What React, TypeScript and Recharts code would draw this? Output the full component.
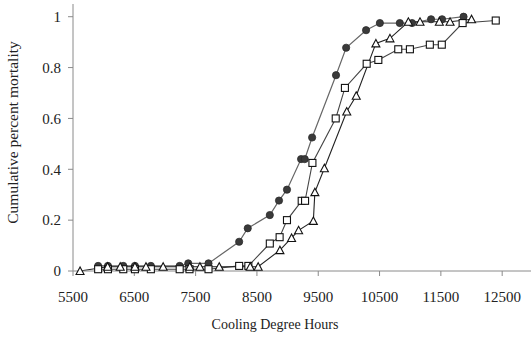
import React from "react";
import { LineChart, Line, XAxis, YAxis, Label } from "recharts";

// ── Data ─────────────────────────────────────────────────────────────────────

const circleX = [5910, 6070, 6320, 6510, 6770, 7240, 7380, 7710, 8210, 8350, 8710, 8860, 8990, 9220, 9280, 9400, 9790, 9955, 10280, 10505, 10830, 11030, 11340, 11520, 11870];
const circleY = [0.02, 0.02, 0.02, 0.02, 0.02, 0.02, 0.03, 0.03, 0.115, 0.168, 0.22, 0.277, 0.32, 0.44, 0.44, 0.525, 0.77, 0.878, 0.947, 0.975, 0.975, 0.975, 0.99, 0.99, 1.0];

const squareX = [5910, 6070, 6320, 6510, 6770, 7240, 7400, 7710, 8210, 8360, 8710, 8870, 8990, 9230, 9285, 9405, 9785, 9935, 10290, 10480, 10805, 10995, 11320, 11515, 11855, 12395];
const squareY = [0.007, 0.007, 0.007, 0.007, 0.007, 0.007, 0.007, 0.007, 0.02, 0.02, 0.108, 0.133, 0.2, 0.276, 0.276, 0.425, 0.6, 0.72, 0.815, 0.83, 0.872, 0.872, 0.89, 0.89, 0.975, 0.985];

const triangleX = [5615, 6065, 6270, 6510, 6690, 6970, 7405, 7570, 7885, 8390, 8520, 8875, 9065, 9180, 9420, 9445, 9600, 9965, 10120, 10440, 10670, 10970, 11160, 11475, 11650, 12000];
const triangleY = [0, 0.017, 0.017, 0.017, 0.017, 0.017, 0.017, 0.017, 0.017, 0.017, 0.017, 0.082, 0.13, 0.16, 0.197, 0.31, 0.404, 0.627, 0.689, 0.895, 0.915, 0.98, 0.98, 0.98, 0.98, 0.99];

const xTicks = [5500, 6500, 7500, 8500, 9500, 10500, 11500, 12500];
const yTicks = [0, 0.2, 0.4, 0.6, 0.8, 1];

const zip = (xs: number[], ys: number[]) => xs.map((x, i) => ({ x, y: ys[i] }));

const circles = zip(circleX, circleY);
const squares = zip(squareX, squareY);
const triangles = zip(triangleX, triangleY);

// ── Markers ──────────────────────────────────────────────────────────────────

const CircleDot = (props: any) => {
  const { cx, cy, index } = props;
  return <circle key={`c-${index}`} cx={cx} cy={cy} r={3.6} fill="#3a3a3a" stroke="#2a2a2a" strokeWidth={0.8} />;
};

const SquareDot = (props: any) => {
  const { cx, cy, index } = props;
  const s = 7;
  return (
    <rect key={`s-${index}`} x={cx - s / 2} y={cy - s / 2} width={s} height={s} fill="#fff" stroke="#111" strokeWidth={1.1} />
  );
};

const TriangleDot = (props: any) => {
  const { cx, cy, index } = props;
  const h = 7;
  const w = 8;
  return (
    <polygon
      key={`t-${index}`}
      points={`${cx},${cy - h / 2 - 0.5} ${cx - w / 2},${cy + h / 2} ${cx + w / 2},${cy + h / 2}`}
      fill="#fff"
      stroke="#111"
      strokeWidth={1.1}
    />
  );
};

const font = "'Liberation Serif', 'Times New Roman', serif";

export default function App() {
  return (
    <div style={{ position: "absolute", left: 0, top: 0, background: "#fff" }}>
      <LineChart width={531} height={339} margin={{ top: 4, right: 0, bottom: 0, left: 0 }}>
        <XAxis
          type="number"
          dataKey="x"
          domain={[5500, 12970]}
          ticks={xTicks}
          allowDataOverflow
          height={68}
          tickSize={5}
          tickMargin={15}
          stroke="#8a8a8a"
          tick={{ fontSize: 15, fill: "#222", fontFamily: font }}
        >
          <Label
            value="Cooling Degree Hours"
            position="insideBottom"
            offset={10}
            dx={-27}
            style={{ fontSize: 14, fill: "#222", fontFamily: font }}
          />
        </XAxis>
        <YAxis
          type="number"
          dataKey="y"
          domain={[0, 1.05]}
          ticks={yTicks}
          width={73}
          tickSize={5}
          tickMargin={7}
          stroke="#8a8a8a"
          tick={{ fontSize: 15, fill: "#222", fontFamily: font }}
        >
          <Label
            value="Cumulative percent mortality"
            angle={-90}
            position="insideLeft"
            offset={0}
            dx={12}
            dy={-5}
            style={{ fontSize: 15.5, fill: "#222", fontFamily: font, textAnchor: "middle" }}
          />
        </YAxis>
        <Line
          data={circles}
          dataKey="y"
          type="linear"
          stroke="#666"
          strokeWidth={1.2}
          dot={CircleDot}
          activeDot={false}
          isAnimationActive={false}
        />
        <Line
          data={squares}
          dataKey="y"
          type="linear"
          stroke="#444"
          strokeWidth={1.1}
          dot={SquareDot}
          activeDot={false}
          isAnimationActive={false}
        />
        <Line
          data={triangles}
          dataKey="y"
          type="linear"
          stroke="#222"
          strokeWidth={1.1}
          dot={TriangleDot}
          activeDot={false}
          isAnimationActive={false}
        />
      </LineChart>
    </div>
  );
}
